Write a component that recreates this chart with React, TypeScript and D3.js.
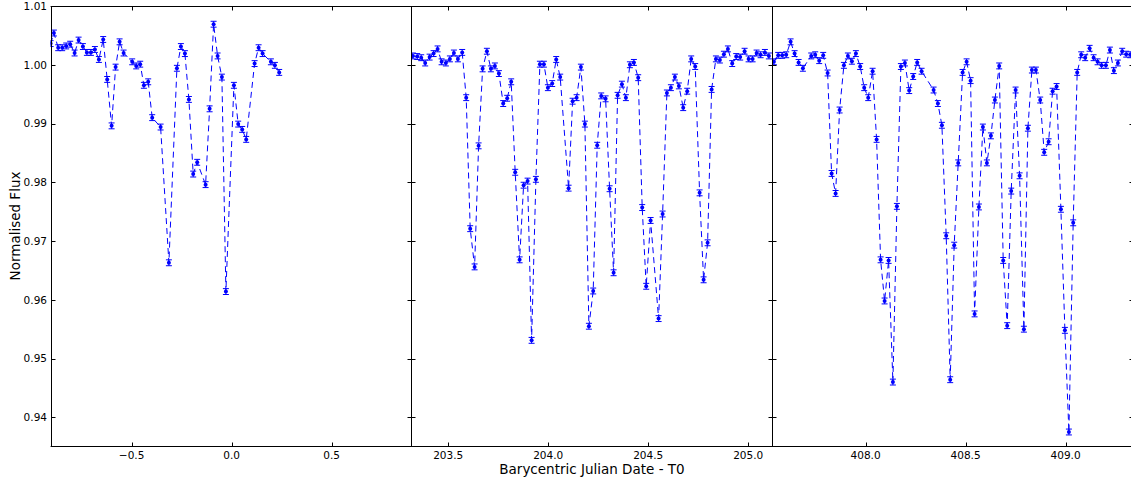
import * as d3 from "d3";

// --- data (days from T0 / normalised flux) ---
const T1 = [-0.905, -0.8885, -0.867, -0.847, -0.827, -0.807, -0.785, -0.765, -0.7435, -0.7235, -0.7035, -0.6835, -0.6635, -0.642, -0.622, -0.6, -0.58, -0.56, -0.54, -0.497, -0.477, -0.457, -0.4385, -0.417, -0.397, -0.355, -0.3135, -0.2735, -0.2535, -0.2335, -0.2135, -0.192, -0.172, -0.13, -0.11, -0.09, -0.07, -0.0485, -0.0285, 0.0115, 0.033, 0.053, 0.073, 0.115, 0.135, 0.155, 0.1965, 0.2165, 0.238];
const F1 = [1.0036, 1.0054, 1.0029, 1.0029, 1.0032, 1.0035, 1.002, 1.0042, 1.0031, 1.0021, 1.0021, 1.0026, 1.0009, 1.0043, 0.9975, 0.9896, 0.9996, 1.0039, 1.002, 1.0005, 0.9998, 1.0001, 0.9965, 0.9971, 0.991, 0.9894, 0.9663, 0.9994, 1.0031, 1.0019, 0.9941, 0.9814, 0.9834, 0.9796, 0.9925, 1.0069, 1.0015, 0.9979, 0.9614, 0.9965, 0.9899, 0.989, 0.9873, 1.0002, 1.0029, 1.0019, 1.0005, 0.9999, 0.9987];

const T2 = [203.3235, 203.345, 203.365, 203.385, 203.407, 203.427, 203.447, 203.467, 203.4885, 203.5085, 203.5285, 203.5485, 203.57, 203.59, 203.61, 203.632, 203.652, 203.672, 203.6935, 203.7135, 203.7335, 203.7535, 203.775, 203.795, 203.815, 203.835, 203.857, 203.877, 203.897, 203.917, 203.9385, 203.9585, 203.9785, 203.9985, 204.02, 204.04, 204.06, 204.102, 204.122, 204.142, 204.1635, 204.1835, 204.2035, 204.225, 204.245, 204.265, 204.287, 204.307, 204.327, 204.347, 204.3685, 204.3885, 204.4085, 204.4285, 204.45, 204.47, 204.49, 204.512, 204.552, 204.572, 204.5935, 204.6135, 204.6335, 204.6535, 204.675, 204.695, 204.715, 204.735, 204.757, 204.777, 204.797, 204.817, 204.8385, 204.8585, 204.8785, 204.8985, 204.92, 204.94, 204.96, 204.982, 205.002, 205.022, 205.042, 205.062, 205.0835, 205.1035];
const F2 = [1.0015, 1.0014, 1.0012, 1.0003, 1.0013, 1.0019, 1.0027, 1.0005, 1.0003, 1.001, 1.002, 1.001, 1.0021, 0.9944, 0.9721, 0.9656, 0.9862, 0.9993, 1.0023, 0.9993, 0.9998, 0.9985, 0.9934, 0.9943, 0.9971, 0.9817, 0.9668, 0.9795, 0.9802, 0.9531, 0.9805, 1.0001, 1.0001, 0.9961, 0.9968, 1.0009, 0.9979, 0.979, 0.9938, 0.9944, 0.9996, 0.9899, 0.9555, 0.9615, 0.9863, 0.9947, 0.9942, 0.9789, 0.9646, 0.9948, 0.9967, 0.9944, 1.0, 1.0004, 0.9978, 0.9757, 0.9623, 0.9735, 0.9568, 0.9746, 0.9952, 0.9961, 0.9979, 0.9964, 0.9927, 0.9955, 1.001, 0.9997, 0.9782, 0.9634, 0.9697, 0.9958, 1.001, 1.0008, 1.0018, 1.0027, 1.0002, 1.0014, 1.0013, 1.0023, 1.001, 1.001, 1.002, 1.0017, 1.0021, 1.0015];

const T3 = [407.5415, 407.563, 407.583, 407.603, 407.625, 407.645, 407.665, 407.6865, 407.728, 407.748, 407.768, 407.788, 407.81, 407.83, 407.85, 407.87, 407.8915, 407.9115, 407.9315, 407.9515, 407.973, 407.993, 408.013, 408.035, 408.055, 408.075, 408.095, 408.115, 408.1365, 408.1565, 408.1765, 408.1965, 408.218, 408.238, 408.258, 408.28, 408.34, 408.3615, 408.3815, 408.403, 408.423, 408.443, 408.463, 408.485, 408.505, 408.525, 408.545, 408.5665, 408.5865, 408.6065, 408.6265, 408.6465, 408.668, 408.688, 408.708, 408.728, 408.75, 408.77, 408.7915, 408.8115, 408.8315, 408.8515, 408.873, 408.893, 408.915, 408.935, 408.955, 408.9765, 408.9965, 409.0165, 409.038, 409.058, 409.078, 409.098, 409.12, 409.14, 409.16, 409.18, 409.2015, 409.2215, 409.2415, 409.2615, 409.283, 409.303, 409.323];
const F3 = [1.0005, 1.0016, 1.0016, 1.0017, 1.0039, 1.0019, 1.0004, 0.9994, 1.0015, 1.0017, 1.0007, 1.0016, 0.9986, 0.9815, 0.9781, 0.9923, 0.9999, 1.0015, 1.0006, 1.0019, 0.9997, 0.9961, 0.9944, 0.9989, 0.9873, 0.9668, 0.9598, 0.9667, 0.946, 0.9759, 0.9997, 1.0003, 0.9956, 0.998, 1.0004, 0.9989, 0.9957, 0.9934, 0.9897, 0.9709, 0.9464, 0.9693, 0.9833, 0.9987, 1.0005, 0.9973, 0.9576, 0.9758, 0.9894, 0.9833, 0.9879, 0.994, 0.9998, 0.9667, 0.9556, 0.9785, 0.9957, 0.9811, 0.955, 0.9892, 0.9991, 0.9991, 0.994, 0.9851, 0.9869, 0.9955, 0.9963, 0.9754, 0.9548, 0.9375, 0.9731, 0.9987, 1.0017, 1.0012, 1.0028, 1.0012, 1.0005, 0.9999, 0.9999, 1.0025, 0.999, 1.0003, 1.0023, 1.0018, 1.0017];

const FLUX_ERR = 0.0005;

const X_TICKS_1 = [-0.5, 0.0, 0.5];
const X_TICKS_2 = [203.5, 204.0, 204.5, 205.0];
const X_TICKS_3 = [408.0, 408.5, 409.0];
const Y_TICKS = [0.94, 0.95, 0.96, 0.97, 0.98, 0.99, 1.0, 1.01];

const W = 1131;
const H = 481;
const top = 6;
const bottom = 446.7;
const left = 50.6;
const panelW = 360.8;
const font = "DejaVu Sans, sans-serif";
const blue = "#0000ff";

const panels = [
  { t: T1, f: F1, domain: [-0.905, 0.899], ticks: X_TICKS_1 },
  { t: T2, f: F2, domain: [203.316, 205.12], ticks: X_TICKS_2 },
  { t: T3, f: F3, domain: [407.533, 409.337], ticks: X_TICKS_3 },
];

const y = d3.scaleLinear().domain([0.935, 1.01]).range([bottom, top]);
const fmtX = (v: number) => d3.format(".1f")(v).replace("-", "\u2212");
const fmtY = d3.format(".2f");

function Panel({ p, i }: { p: any; i: number }) {
  const x0 = left + i * panelW;
  const x1 = x0 + panelW;
  const x = d3.scaleLinear().domain(p.domain).range([x0, x1]);
  const pts = p.t.map((t: number, k: number) => [t, p.f[k]]);
  const line = d3
    .line<number[]>()
    .x((d) => x(d[0]))
    .y((d) => y(d[1]));
  const sx0 = Math.round(x0) + 0.5;
  const sx1 = Math.round(x1) + 0.5;
  const yb = Math.round(bottom) - 0.5;
  const yt = top + 0.5;
  const clipId = `clip-${i}`;

  return (
    <g>
      <clipPath id={clipId}>
        <rect x={x0} y={top} width={panelW} height={bottom - top} />
      </clipPath>
      <g clipPath={`url(#${clipId})`}>
        <path d={line(pts) || ""} fill="none" stroke={blue} strokeWidth={1} strokeDasharray="6,4" />
        {pts.map((d: number[], k: number) => {
          const cx = x(d[0]);
          const ya = y(d[1] + FLUX_ERR);
          const yb2 = y(d[1] - FLUX_ERR);
          return (
            <g key={k} stroke={blue} strokeWidth={1}>
              <line x1={cx} x2={cx} y1={ya} y2={yb2} />
              <line x1={cx - 3} x2={cx + 3} y1={ya} y2={ya} />
              <line x1={cx - 3} x2={cx + 3} y1={yb2} y2={yb2} />
              <circle cx={cx} cy={y(d[1])} r={2} fill={blue} stroke="none" />
            </g>
          );
        })}
      </g>

      {/* spines */}
      <g stroke="#000" strokeWidth={1} fill="none">
        <line x1={sx0} x2={sx0} y1={top} y2={bottom} />
        <line x1={sx1} x2={sx1} y1={top} y2={bottom} />
        <line x1={x0} x2={x1} y1={yt} y2={yt} />
        <line x1={x0} x2={x1} y1={yb} y2={yb} />
        {Y_TICKS.map((v) => {
          const yy = Math.round(y(v)) + 0.5;
          return (
            <g key={v}>
              <line x1={sx0} x2={sx0 + 4} y1={yy} y2={yy} />
              <line x1={sx1 - 4} x2={sx1} y1={yy} y2={yy} />
            </g>
          );
        })}
        {p.ticks.map((v: number) => {
          const xx = Math.round(x(v)) + 0.5;
          return (
            <g key={v}>
              <line x1={xx} x2={xx} y1={yb} y2={yb - 4} />
              <line x1={xx} x2={xx} y1={yt} y2={yt + 4} />
            </g>
          );
        })}
      </g>

      {p.ticks.map((v: number) => (
        <text key={v} x={x(v)} y={459} textAnchor="middle" fontSize={10.5} fontFamily={font} fill="#000">
          {fmtX(v)}
        </text>
      ))}
      {i === 0 &&
        Y_TICKS.map((v) => (
          <text key={v} x={47} y={y(v) + 3.8} textAnchor="end" fontSize={10.5} fontFamily={font} fill="#000">
            {fmtY(v)}
          </text>
        ))}
    </g>
  );
}

export default function App() {
  return (
    <svg
      width={W}
      height={H}
      style={{ position: "absolute", left: 0, top: 0, background: "#fff" }}
    >
      <rect width={W} height={H} fill="#fff" />
      {panels.map((p, i) => (
        <Panel key={i} p={p} i={i} />
      ))}
      <text x={592} y={473.5} textAnchor="middle" fontSize={13.5} fontFamily={font} fill="#000">
        Barycentric Julian Date - T0
      </text>
      <text
        transform="translate(19.5,226) rotate(-90)"
        textAnchor="middle"
        fontSize={13.5}
        fontFamily={font}
        fill="#000"
      >
        Normalised Flux
      </text>
    </svg>
  );
}
